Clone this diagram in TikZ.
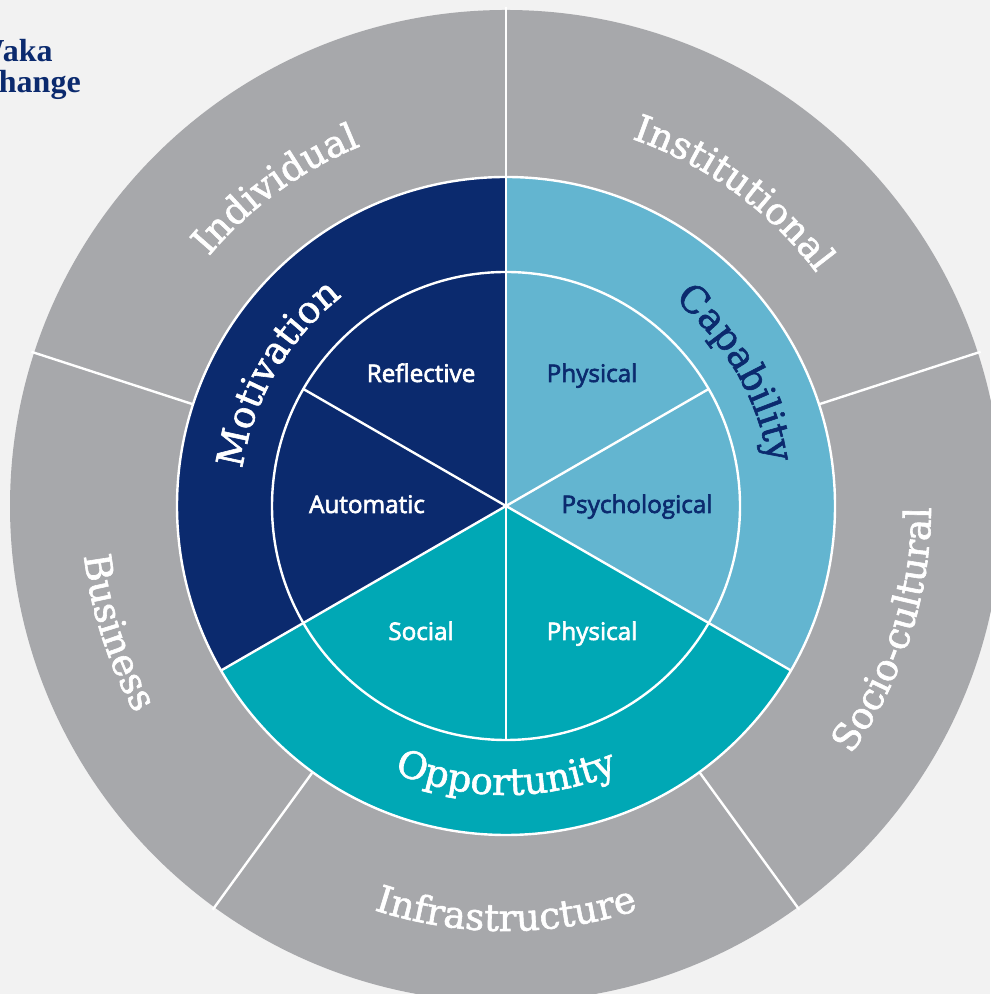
\documentclass[tikz,border=0pt]{standalone}
\usepackage{fontspec}
\usetikzlibrary{decorations.text}
\newfontfamily\lblfont[FakeBold=1.6]{DejaVu Serif}
\newfontfamily\ttlfont{Liberation Serif}
\newfontfamily\osans[FakeBold=2.6]{Open Sans}
\definecolor{bgGray}{HTML}{F2F2F2}
\definecolor{ringGray}{HTML}{A7A8AB}
\definecolor{comNavy}{HTML}{0B2A6E}
\definecolor{comBlue}{HTML}{63B5D0}
\definecolor{comTeal}{HTML}{00A8B5}
\begin{document}
\begin{tikzpicture}[x=0.75pt,y=0.75pt,
  sep/.style={white,line width=1.8pt},
  inlbl/.style={font=\osans\fontsize{18.2}{20}\selectfont, anchor=base, inner sep=0pt},
  ttl/.style={font=\ttlfont\bfseries\fontsize{24}{28}\selectfont, text=comNavy, anchor=base east, inner sep=0pt},
  arclbl/.style 2 args={decorate, decoration={text along path,
      text={|\lblfont\fontsize{28}{30}\selectfont|#1}, text align=center, text color=#2}}]
\fill[bgGray] (0,0) rectangle (990,994);
\useasboundingbox (0,0) rectangle (990,994);
\coordinate (C) at (506,488);
% rings
\fill[ringGray] (C) circle[radius=496];
\fill[comNavy] (C) -- ++(90:329) arc[start angle=90,end angle=210,radius=329] -- cycle;
\fill[comTeal] (C) -- ++(210:329) arc[start angle=210,end angle=330,radius=329] -- cycle;
\fill[comBlue] (C) -- ++(330:329) arc[start angle=330,end angle=450,radius=329] -- cycle;
\draw[sep] (C) circle[radius=329];
\draw[sep] (C) circle[radius=234];
\foreach \a in {18,90,162,234,306} \draw[sep] (C) ++(\a:329) -- ++(\a:170);
\foreach \a in {90,210,330} \draw[sep] (C) -- ++(\a:329);
\foreach \a in {30,150,270} \draw[sep] (C) -- ++(\a:234);
% outer labels
\path[arclbl={Individual}{white}] (C) ++(166:388) arc[start angle=166,end angle=86,radius=388];
\path[arclbl={Institutional}{white}] (C) ++(94:388) arc[start angle=94,end angle=14,radius=388];
\path[arclbl={Business}{white}] (C) ++(163:425) arc[start angle=163,end angle=233,radius=425];
\path[arclbl={Infrastructure}{white}] (C) ++(230:425) arc[start angle=230,end angle=310,radius=425];
\path[arclbl={Socio-cultural}{white}] (C) ++(302:425) arc[start angle=302,end angle=382,radius=425];
% middle labels
\path[arclbl={Motivation}{white}] (C) ++(195:266) arc[start angle=195,end angle=105,radius=266];
\path[arclbl={Capability}{comNavy}] (C) ++(75:266) arc[start angle=75,end angle=-15,radius=266];
\path[arclbl={Opportunity}{white}] (C) ++(225:289) arc[start angle=225,end angle=315,radius=289];
% inner labels
\node[inlbl, text=white] (refl) at (421,612) {Reflective};
\node[inlbl, text=comNavy] (cphys) at (592,612) {Physical};
\node[inlbl, text=white] (auto) at (367,481) {Automatic};
\node[inlbl, text=comNavy] (psych) at (637,481) {Psychological};
\node[inlbl, text=white] (soc) at (421,354) {Social};
\node[inlbl, text=white] (ophys) at (592,354) {Physical};
% title (cut off at the left edge)
\node[ttl] (t1) at (53,932) {Waka};
\node[ttl] (t2) at (81,901) {change};
\end{tikzpicture}
\end{document}
